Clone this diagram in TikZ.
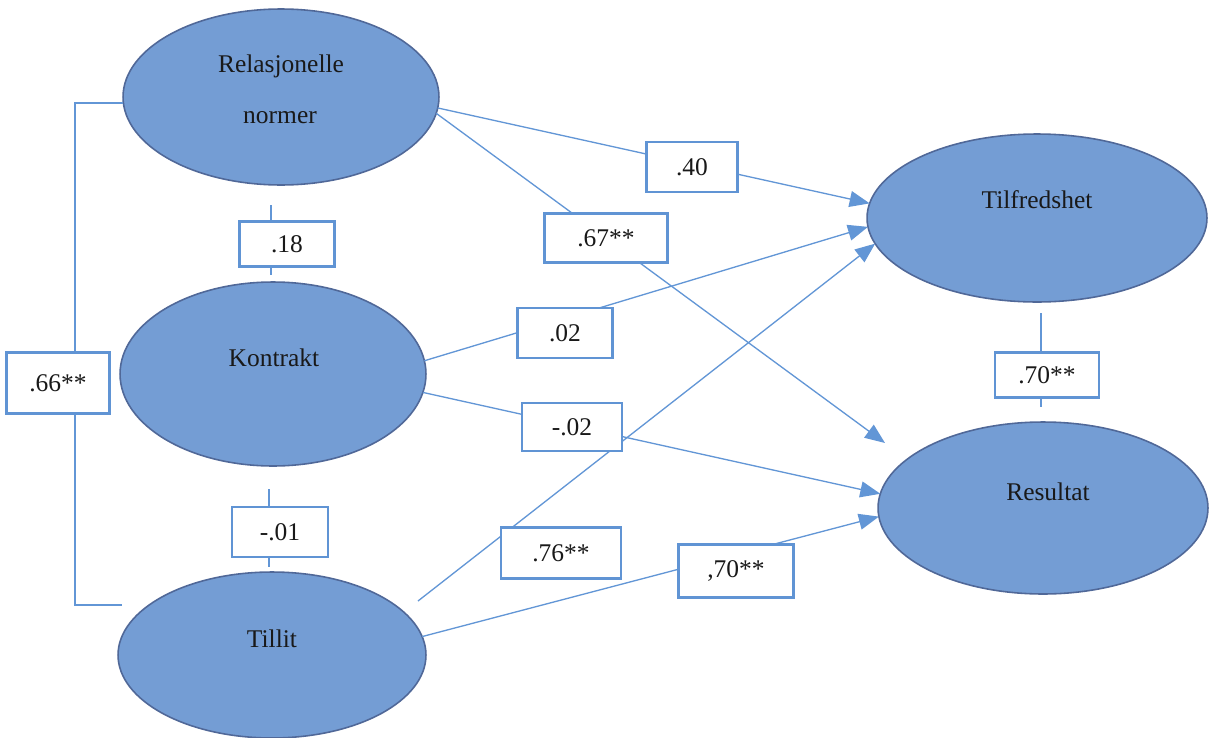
\documentclass[tikz,border=0pt]{standalone}
\usepackage{fontspec}
\setmainfont{Liberation Serif}
\usetikzlibrary{shapes.geometric,arrows.meta}
\definecolor{efill}{RGB}{116,157,212}
\definecolor{edraw}{RGB}{80,104,152}
\definecolor{lblue}{RGB}{98,150,214}
\definecolor{bblue}{RGB}{96,148,212}
\tikzset{
  oval/.style={ellipse,fill=efill,draw=edraw,line width=0.9pt,inner sep=0pt,outer sep=0pt},
  otext/.style={anchor=base,inner sep=0pt,font=\fontsize{14.5}{17}\selectfont,text=black!90},
  coef/.style={rectangle,fill=white,draw=bblue,line width=1.2pt,inner sep=0pt,outer sep=0pt,font=\fontsize{14.5}{17}\selectfont,text=black!90},
  conn/.style={draw=lblue,line width=0.75pt},
  arr/.style={conn,-{Triangle[length=0.4cm,width=0.32cm,fill=lblue]}}
}
\begin{document}
\begin{tikzpicture}[x=0.02cm,y=-0.02cm]
\useasboundingbox (0,0) rectangle (1209,737);
\clip (0,0) rectangle (1209,737);
\fill[white] (0,0) rectangle (1209,737);
% ellipses
\node[oval,minimum width=6.32cm,minimum height=3.52cm] (rel) at (281,97) {};
\node[oval,minimum width=6.12cm,minimum height=3.68cm] (kon) at (273,374) {};
\node[oval,minimum width=6.16cm,minimum height=3.32cm] (til) at (272,655) {};
\node[oval,minimum width=6.8cm,minimum height=3.36cm] (tf) at (1037,218) {};
\node[oval,minimum width=6.6cm,minimum height=3.44cm] (res) at (1043,508) {};
% ellipse texts
\node[otext] (relA) at (281,72) {Relasjonelle};
\node[otext] (relB) at (280,123) {normer};
\node[otext] (konT) at (274,366) {Kontrakt};
\node[otext] (tilT) at (272,647) {Tillit};
\node[otext] (tfT) at (1037,208) {Tilfredshet};
\node[otext] (resT) at (1048,500) {Resultat};
% free ends
\coordinate (rtip) at (885,443);
\coordinate (t1) at (418,601);
\coordinate (br1) at (123,103);
\coordinate (br2) at (75,103);
\coordinate (br3) at (75,605);
\coordinate (br4) at (122,605);
\coordinate (v18a) at (271,205);
\coordinate (v18b) at (271,275);
\coordinate (v01a) at (269,489);
\coordinate (v01b) at (269,567);
\coordinate (v70a) at (1041,313);
\coordinate (v70b) at (1041,407);
% connectors
\draw[arr] (rel.-4.03) -- (tf.175.35);
\draw[arr] (rel.-6.58) -- (rtip);
\draw[arr] (kon.5.93) -- (tf.183.66);
\draw[arr] (kon.-7.13) -- (res.175.8);
\draw[arr] (t1) -- (tf.189.18);
\draw[arr] (til.7.4) -- (res.183.5);
\draw[conn] (br1) -- (br2) -- (br3) -- (br4);
\draw[conn] (v18a) -- (v18b);
\draw[conn] (v01a) -- (v01b);
\draw[conn] (v70a) -- (v70b);
% coefficient boxes
\node[coef,minimum width=1.82cm,minimum height=1.0cm] (b40) at (692,167) {.40};
\node[coef,minimum width=2.46cm,minimum height=0.98cm] (b67) at (606,238) {.67**};
\node[coef,minimum width=1.9cm,minimum height=0.9cm] (b18) at (287,244) {.18};
\node[coef,minimum width=2.06cm,minimum height=1.22cm] (b66) at (58,383) {.66**};
\node[coef,minimum width=1.9cm,minimum height=1.0cm] (b02) at (565,333) {.02};
\node[coef,minimum width=2.0cm,minimum height=0.96cm] (bm02) at (572,427) {-.02};
\node[coef,minimum width=1.92cm,minimum height=1.0cm] (bm01) at (280,532) {-.01};
\node[coef,minimum width=2.4cm,minimum height=1.02cm] (b76) at (561,553) {.76**};
\node[coef,minimum width=2.3cm,minimum height=1.06cm] (b70a) at (736,571) {,70**};
\node[coef,minimum width=2.08cm,minimum height=0.9cm] (b70b) at (1047,375) {.70**};
\end{tikzpicture}
\end{document}
